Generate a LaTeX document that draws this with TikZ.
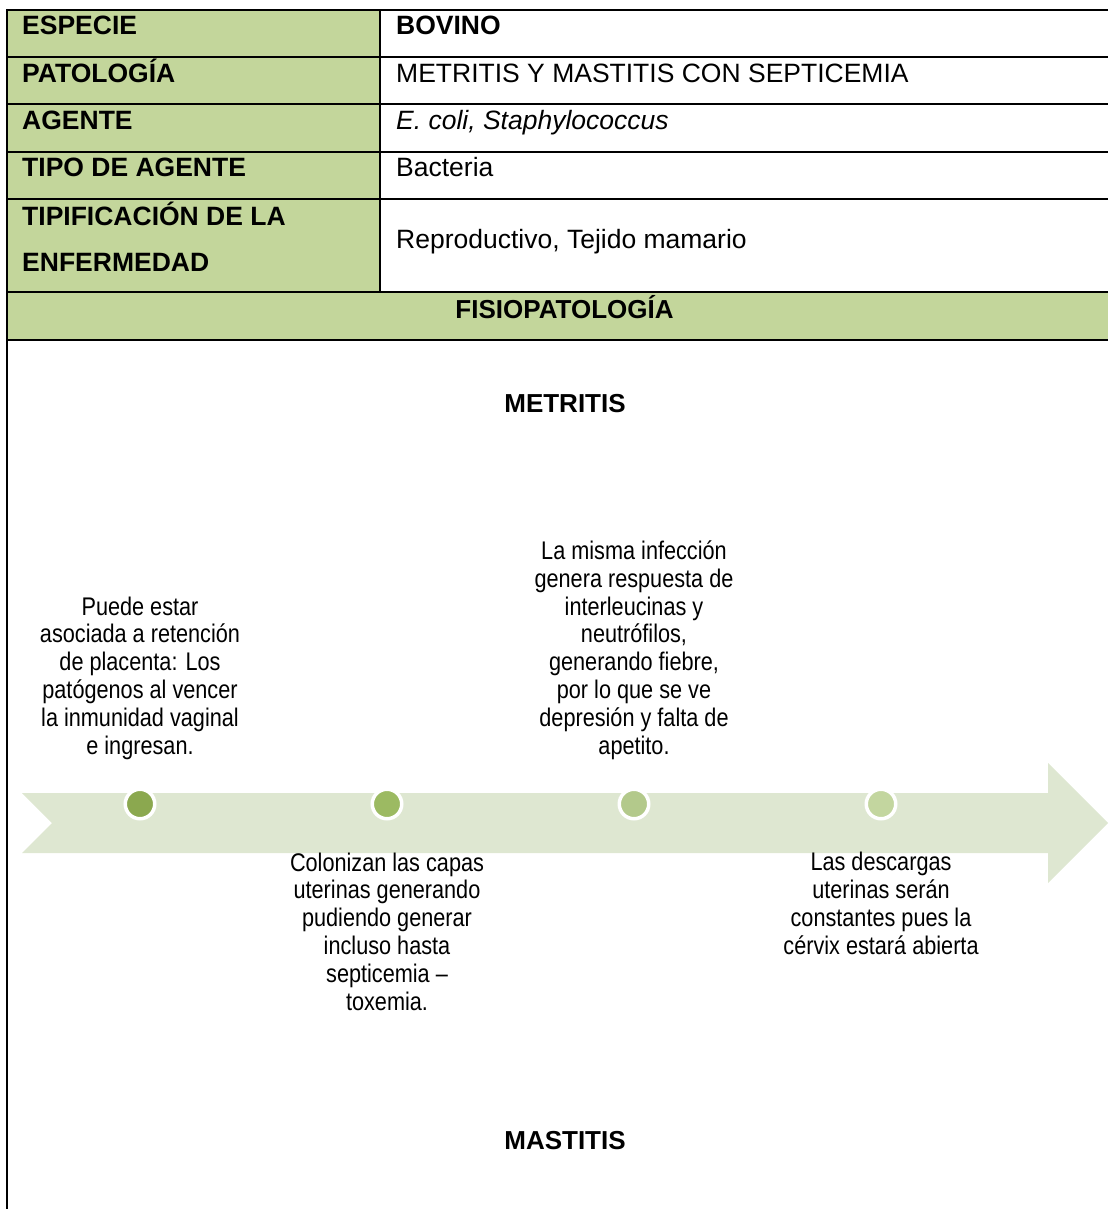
\documentclass[tikz,border=0pt]{standalone}
\usepackage{fontspec}
\setmainfont{Liberation Sans}
\newfontfamily\narrowfont[FakeStretch=0.85]{Liberation Sans}
\definecolor{hdrgreen}{HTML}{C3D69B}
\definecolor{bandgreen}{HTML}{DEE7D1}
\definecolor{dotA}{HTML}{8BA84F}
\definecolor{dotB}{HTML}{9CBA62}
\definecolor{dotC}{HTML}{B3C98B}
\definecolor{dotD}{HTML}{C3D69F}
\begin{document}
\begin{tikzpicture}[x=1pt,y=-1pt,
  tbl/.style={line width=2pt,black},
  lab/.style={anchor=base west,inner sep=0pt,font=\bfseries\fontsize{26.5}{46}\selectfont,align=left},
  val/.style={anchor=base west,inner sep=0pt,font=\fontsize{26.5}{30}\selectfont},
  ttl/.style={anchor=base,inner sep=0pt,font=\bfseries\fontsize{26}{30}\selectfont},
  tdot/.style={circle,draw=white,line width=3.5pt,minimum size=29.5pt,inner sep=0pt},
  ttext/.style={anchor=base,inner sep=0pt,align=center,font=\narrowfont\fontsize{25.5}{27.8}\selectfont}]
\useasboundingbox (0,0) rectangle (1108,1209);
% header fills
\fill[hdrgreen] (7,10) rectangle (380,292);
\fill[hdrgreen] (7,292) rectangle (1108,340);
% table lines
\foreach \yy in {10,57,104,152,199,292,340}{\draw[tbl] (6,\yy) -- (1108,\yy);}
\draw[tbl] (7,9) -- (7,1209);
\draw[tbl] (380,10) -- (380,292);
% labels
\node[lab] (l1) at (22,35) {ESPECIE};
\node[lab] (l2) at (22,83) {PATOLOGÍA};
\node[lab] (l3) at (22,130) {AGENTE};
\node[lab] (l4) at (22,177) {TIPO DE AGENTE};
\node[lab] (l5) at (22,271) {TIPIFICACIÓN DE LA\\ENFERMEDAD};
\node[val,font=\bfseries\fontsize{26.5}{30}\selectfont] (v1) at (396,35) {BOVINO};
\node[val] (v2) at (396,83) {METRITIS Y MASTITIS CON SEPTICEMIA};
\node[val,font=\itshape\fontsize{26.5}{30}\selectfont] (v3) at (396,130) {E. coli, Staphylococcus};
\node[val] (v4) at (396,177) {Bacteria};
\node[val] (v5) at (396,248) {Reproductivo, Tejido mamario};
\node[ttl] (fis) at (564.5,318) {FISIOPATOLOGÍA};
\node[ttl] (met) at (565,412) {METRITIS};
\node[ttl] (mas) at (565,1149) {MASTITIS};
% timeline band
\fill[bandgreen] (22,793) -- (1048,793) -- (1048,763) -- (1108,823) -- (1048,883) -- (1048,853) -- (22,853) -- (52,823) -- cycle;
\node[tdot,fill=dotA] (d1) at (140,804) {};
\node[tdot,fill=dotB] (d2) at (387,804) {};
\node[tdot,fill=dotC] (d3) at (634,804) {};
\node[tdot,fill=dotD] (d4) at (881,804) {};
% timeline texts (base anchor = last line baseline)
\node[ttext] (t1) at (140,754) {Puede estar\\asociada a retención\\de placenta: Los\\patógenos al vencer\\la inmunidad vaginal\\e ingresan.};
\node[ttext] (t2) at (387,1010) {Colonizan las capas\\uterinas generando\\pudiendo generar\\incluso hasta\\septicemia –\\toxemia.};
\node[ttext] (t3) at (634,754) {La misma infección\\genera respuesta de\\interleucinas y\\neutrófilos,\\generando fiebre,\\por lo que se ve\\depresión y falta de\\apetito.};
\node[ttext] (t4) at (881,954) {Las descargas\\uterinas serán\\constantes pues la\\cérvix estará abierta};
\end{tikzpicture}
\end{document}
